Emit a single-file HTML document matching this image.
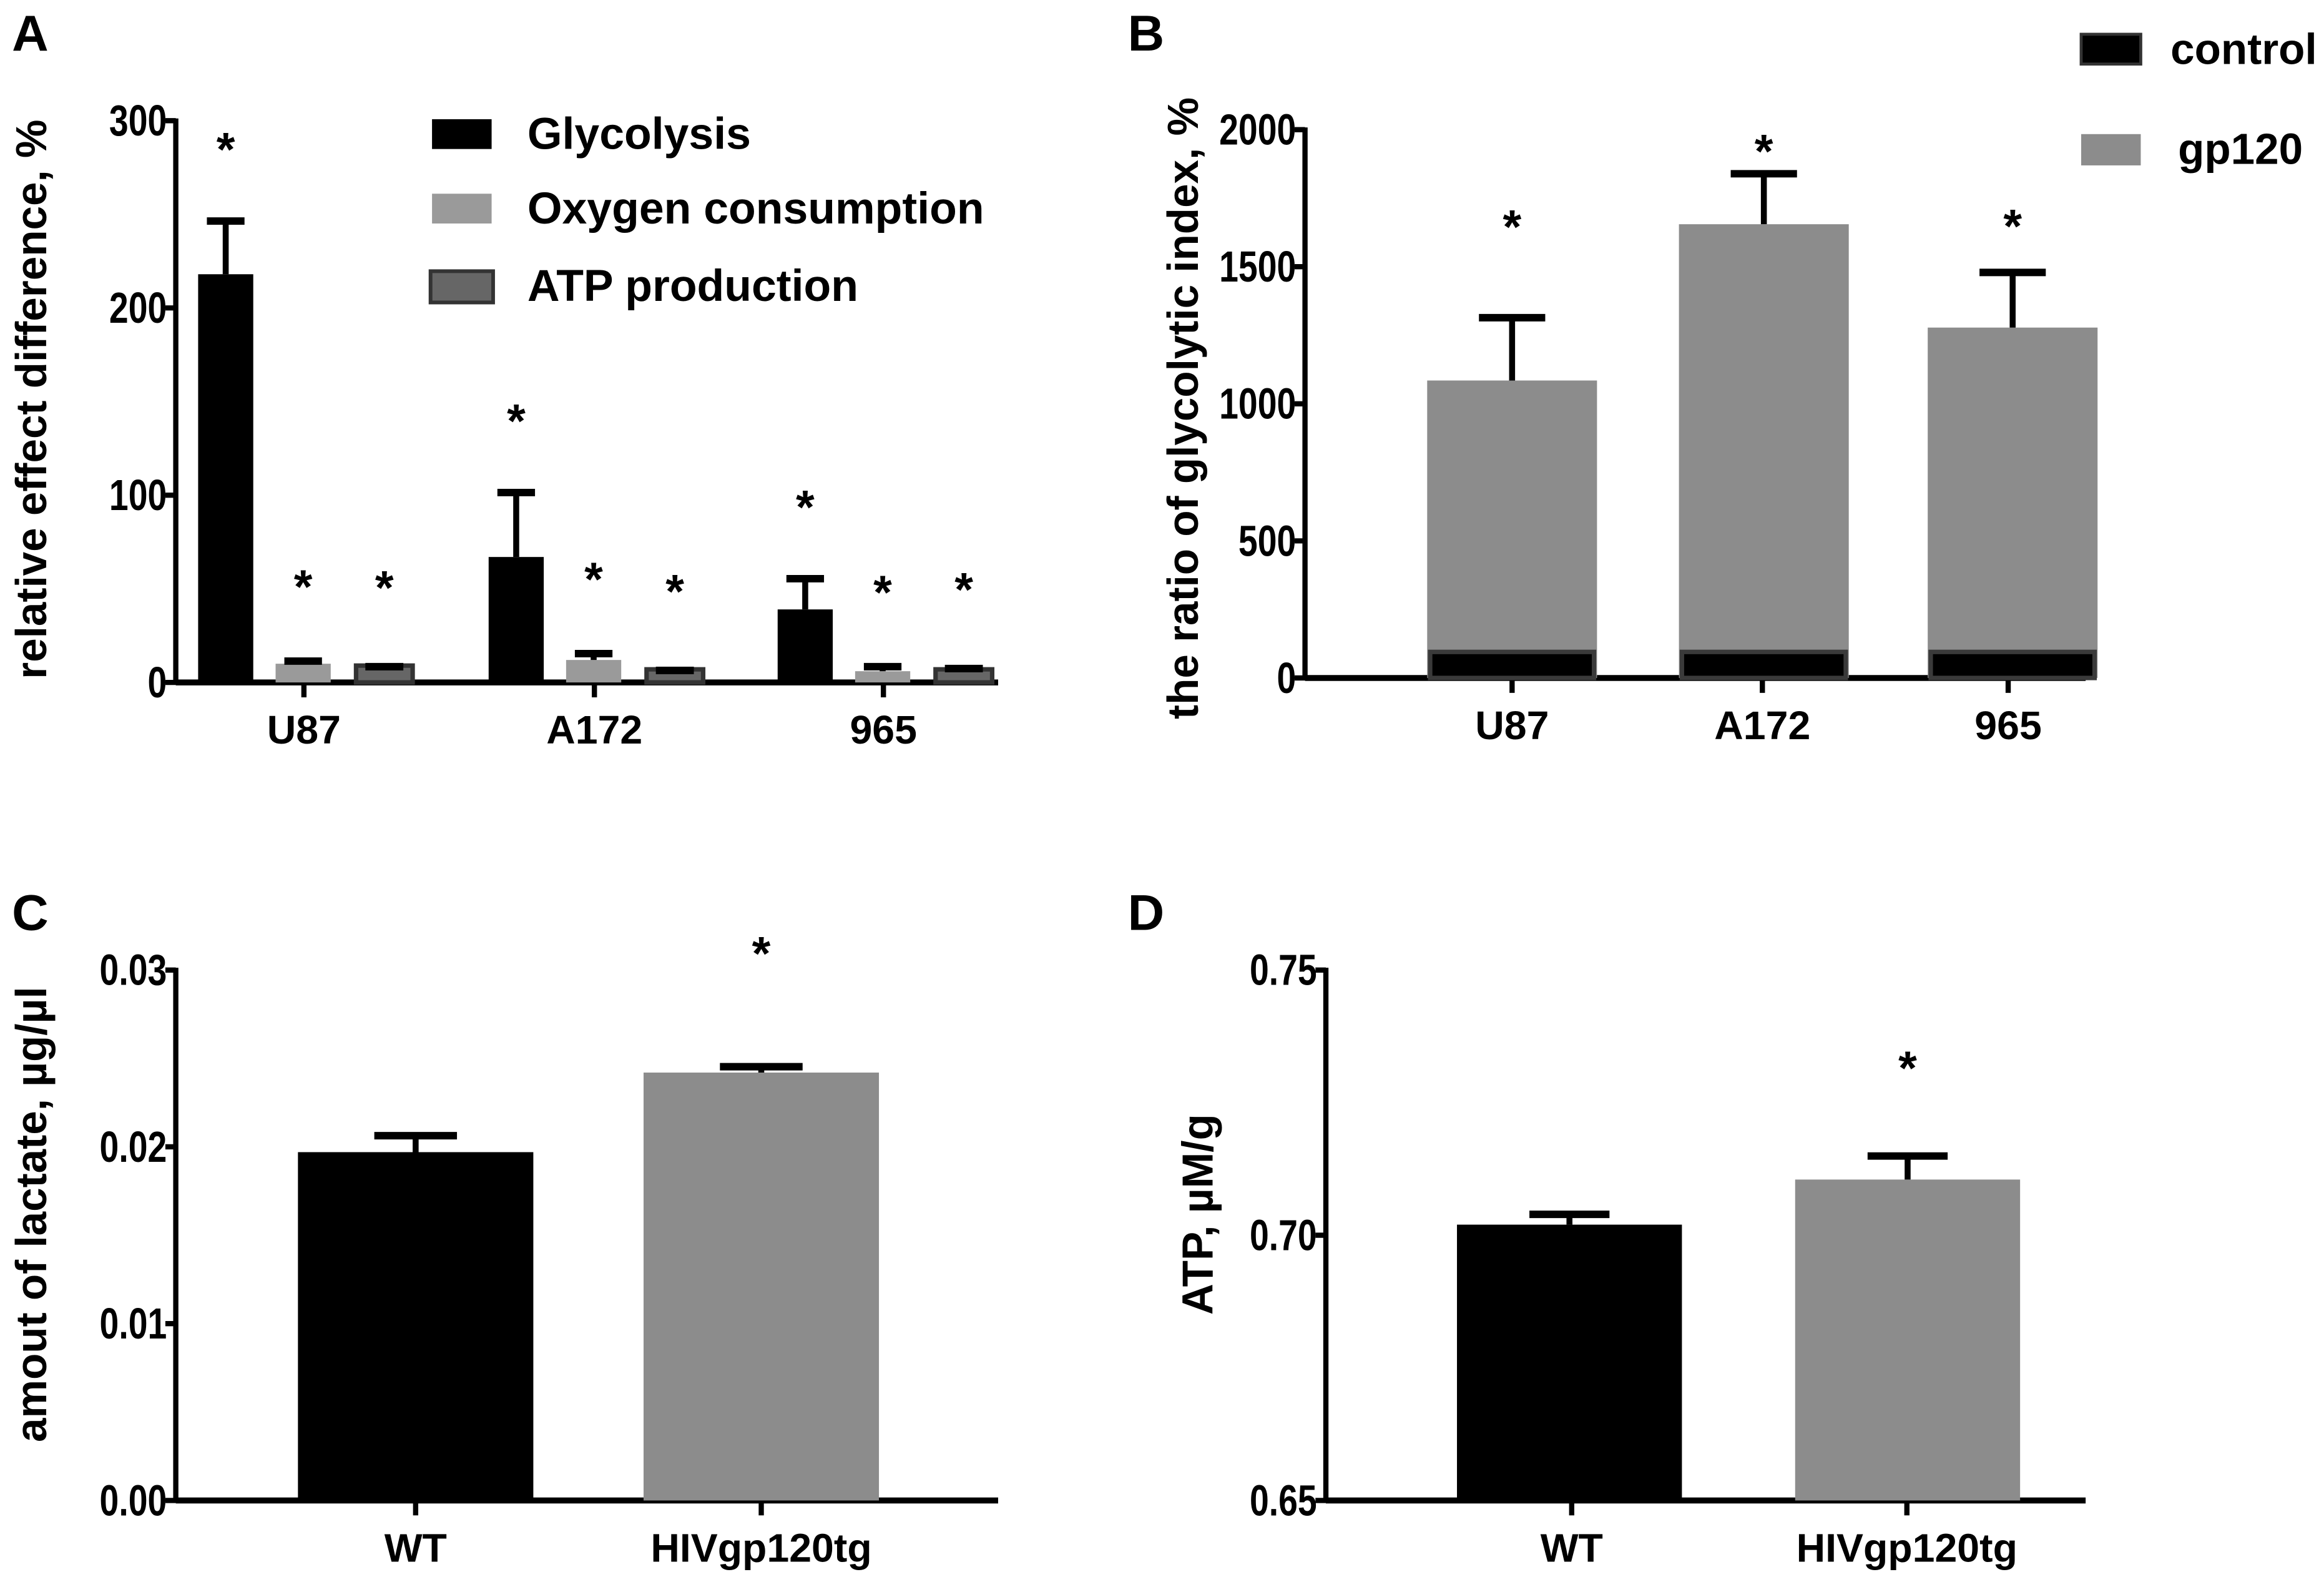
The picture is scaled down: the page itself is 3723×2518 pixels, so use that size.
<!DOCTYPE html>
<html><head><meta charset="utf-8"><style>
html,body{margin:0;padding:0;background:#fff}
svg{display:block}
text{font-family:"Liberation Sans",Arial,sans-serif;font-weight:bold;fill:#000}
</style></head><body>
<svg id="fig" width="3723" height="2518" viewBox="0 0 1560 1055" preserveAspectRatio="none" xmlns="http://www.w3.org/2000/svg">
<text x="8" y="34" font-size="34">A</text>
<text x="757" y="34" font-size="34">B</text>
<text x="8" y="624" font-size="34">C</text>
<text x="757" y="624" font-size="34">D</text>
<text transform="translate(31,268) rotate(-90)" text-anchor="middle" font-size="29">relative effect difference, %</text>
<text transform="translate(804,274) rotate(-90)" text-anchor="middle" font-size="29">the ratio of glycolytic index, %</text>
<text transform="translate(31,815) rotate(-90)" text-anchor="middle" font-size="29">amout of lactate, µg/µl</text>
<text transform="translate(814,815) rotate(-90)" text-anchor="middle" font-size="29">ATP, µM/g</text>
<g>
<rect x="290" y="80" width="40" height="20" fill="#000"/>
<text x="354" y="100" font-size="30">Glycolysis</text>
<rect x="290" y="130" width="40" height="20" fill="#9a9a9a"/>
<text x="354" y="150" font-size="30">Oxygen consumption</text>
<rect x="289" y="182" width="42" height="21" fill="#666" stroke="#333" stroke-width="2.5"/>
<text x="354" y="202" font-size="30">ATP production</text>
</g>
<g>
<rect x="1397" y="23" width="40" height="20" fill="#000" stroke="#333" stroke-width="2"/>
<text x="1457" y="43" font-size="29">control</text>
<rect x="1397" y="90" width="40" height="21" fill="#8c8c8c"/>
<text x="1462" y="110" font-size="29">gp120</text>
</g>
</svg>
<script>
// Panel A data
const aCategories = ["U87", "A172", "965"];
const aGlycolysis = [218, 67, 39];
const aGlycolysisErr = [30, 36, 18];
const aOxygen = [10, 12, 6];
const aOxygenErr = [3, 5, 4];
const aAtp = [9, 7, 7];
const aAtpErr = [1, 1, 2];
const aTicks = [0, 100, 200, 300];
// Panel B data
const bCategories = ["U87", "A172", "965"];
const bControl = [95, 95, 95];
const bGp120 = [1085, 1655, 1278];
const bGp120Err = [240, 195, 212];
const bTicks = [0, 500, 1000, 1500, 2000];
// Panel C data
const cCategories = ["WT", "HIVgp120tg"];
const cValues = [0.0197, 0.0242];
const cErr = [0.0011, 0.0005];
const cTicks = ["0.00", "0.01", "0.02", "0.03"];
// Panel D data
const dCategories = ["WT", "HIVgp120tg"];
const dValues = [0.702, 0.7105];
const dErr = [0.0025, 0.005];
const dTicks = ["0.65", "0.70", "0.75"];

const NS = "http://www.w3.org/2000/svg";
const svg = document.getElementById("fig");
function mk(tag, attrs, parent) {
  const e = document.createElementNS(NS, tag);
  for (const k in attrs) e.setAttribute(k, attrs[k]);
  (parent || svg).appendChild(e);
  return e;
}
function linScale(d0, d1, r0, r1) { return v => r0 + (v - d0) * (r1 - r0) / (d1 - d0); }

function axes(p) {
  const g = mk("g", {});
  
  
  const y = p.y;
  const yl = mk("line", {x1: p.ax, x2: p.ax, y1: y(p.tmax) - 1.5, y2: p.base + 1.5, stroke: "#000", "stroke-width": 3.5}, g);
  
  
  const xl = mk("line", {x1: p.ax, x2: p.xend, y1: p.base, y2: p.base, stroke: "#000", "stroke-width": 4}, g);
  
  
  p.ticks.forEach(t => {
    const ty = y(parseFloat(t));
    const tk = mk("line", {x1: p.ax - 7, x2: p.ax, y1: ty, y2: ty, stroke: "#000", "stroke-width": 3.5}, g);
    
    
    const tl = mk("text", {transform: "translate(" + (p.ax - 6) + "," + (ty + 10) + ") scale(0.8,1)", "text-anchor": "end", "font-size": 29}, g);
    tl.textContent = t;
    
    
  });
  p.cats.forEach((c, i) => {
    const cx = p.catX[i];
    const tk = mk("line", {x1: cx, x2: cx, y1: p.base, y2: p.base + 10, stroke: "#000", "stroke-width": 3.5}, g);
    
    
    const tl = mk("text", {x: cx, y: p.base + 41, "text-anchor": "middle", "font-size": 27}, g);
    tl.textContent = c;
    
    
  });
}
function bar(name, x0, w, v, err, y, base, fill, stroke, starOff) {
  const top = y(v);
  const r = mk("rect", {x: x0, y: top, width: w, height: base - top, fill: fill});
  if (stroke) { r.setAttribute("stroke", stroke); r.setAttribute("stroke-width", 3); }
  
  
  let et = top;
  if (err != null) {
    const cx = x0 + w / 2;
    et = y(v + err);
    const eg = mk("g", {});
    
    
    mk("line", {x1: cx, x2: cx, y1: top, y2: et, stroke: "#000", "stroke-width": 4}, eg);
    const cw = Math.min(w * 0.7, 16 + w * 0.25);
    mk("line", {x1: cx - cw / 2, x2: cx + cw / 2, y1: et + 2, y2: et + 2, stroke: "#000", "stroke-width": 5}, eg);
  }
  if (starOff != null) {
    const s = mk("text", {x: x0 + w / 2, y: et + starOff, "text-anchor": "middle", "font-size": 32});
    s.textContent = "*";
    
    
  }
}

// Panel A
(function () {
  const base = 458, y = linScale(0, 300, base, 81);
  axes({name: "panel-a", ax: 118, xend: 670, base, y, ticks: aTicks.map(String), tmax: 300, cats: aCategories, catX: [204, 399, 593]});
  const starts = [133, 328, 522];
  aCategories.forEach((c, i) => {
    const s = starts[i];
    bar("bar-glycolysis-" + c, s, 37, aGlycolysis[i], aGlycolysisErr[i], y, base, "#000", null, -35);
    bar("bar-oxygen-" + c, s + 52, 37, aOxygen[i], aOxygenErr[i], y, base, "#9a9a9a", null, -37);
    bar("bar-atp-" + c, s + 106, 38, aAtp[i], aAtpErr[i], y, base, "#666", "#333", -40);
  });
})();
// Panel B
(function () {
  const base = 455, y = linScale(0, 2000, base, 87);
  axes({name: "panel-b", ax: 876, xend: 1400, base, y, ticks: bTicks.map(String), tmax: 2000, cats: bCategories, catX: [1015, 1183, 1348]});
  const starts = [958, 1127, 1294];
  const offs = [-48, -2, -18];
  bCategories.forEach((c, i) => {
    const s = starts[i];
    bar("bar-gp120-" + c, s, 114, bGp120[i], bGp120Err[i], y, base, "#8c8c8c", null, offs[i]);
    bar("bar-control-" + c, s + 2, 110, bControl[i], null, y, base, "#000", "#3a3a3a", null);
  });
})();
// Panel C
(function () {
  const base = 1007, y = linScale(0, 0.03, base, 651);
  axes({name: "panel-c", ax: 118, xend: 670, base, y, ticks: cTicks, tmax: 0.03, cats: cCategories, catX: [279, 511]});
  const starts = [200, 432];
  cCategories.forEach((c, i) => {
    bar("bar-lactate-" + c, starts[i], 158, cValues[i], cErr[i], y, base, i ? "#8c8c8c" : "#000", null, i ? -63 : null);
  });
})();
// Panel D
(function () {
  const base = 1007, y = linScale(0.65, 0.75, base, 651);
  axes({name: "panel-d", ax: 890, xend: 1400, base, y, ticks: dTicks, tmax: 0.75, cats: dCategories, catX: [1055, 1280]});
  const starts = [978, 1205];
  dCategories.forEach((c, i) => {
    bar("bar-atp-level-" + c, starts[i], 151, dValues[i], dErr[i], y, base, i ? "#8c8c8c" : "#000", null, i ? -46 : null);
  });
})();
</script>
</body></html>
